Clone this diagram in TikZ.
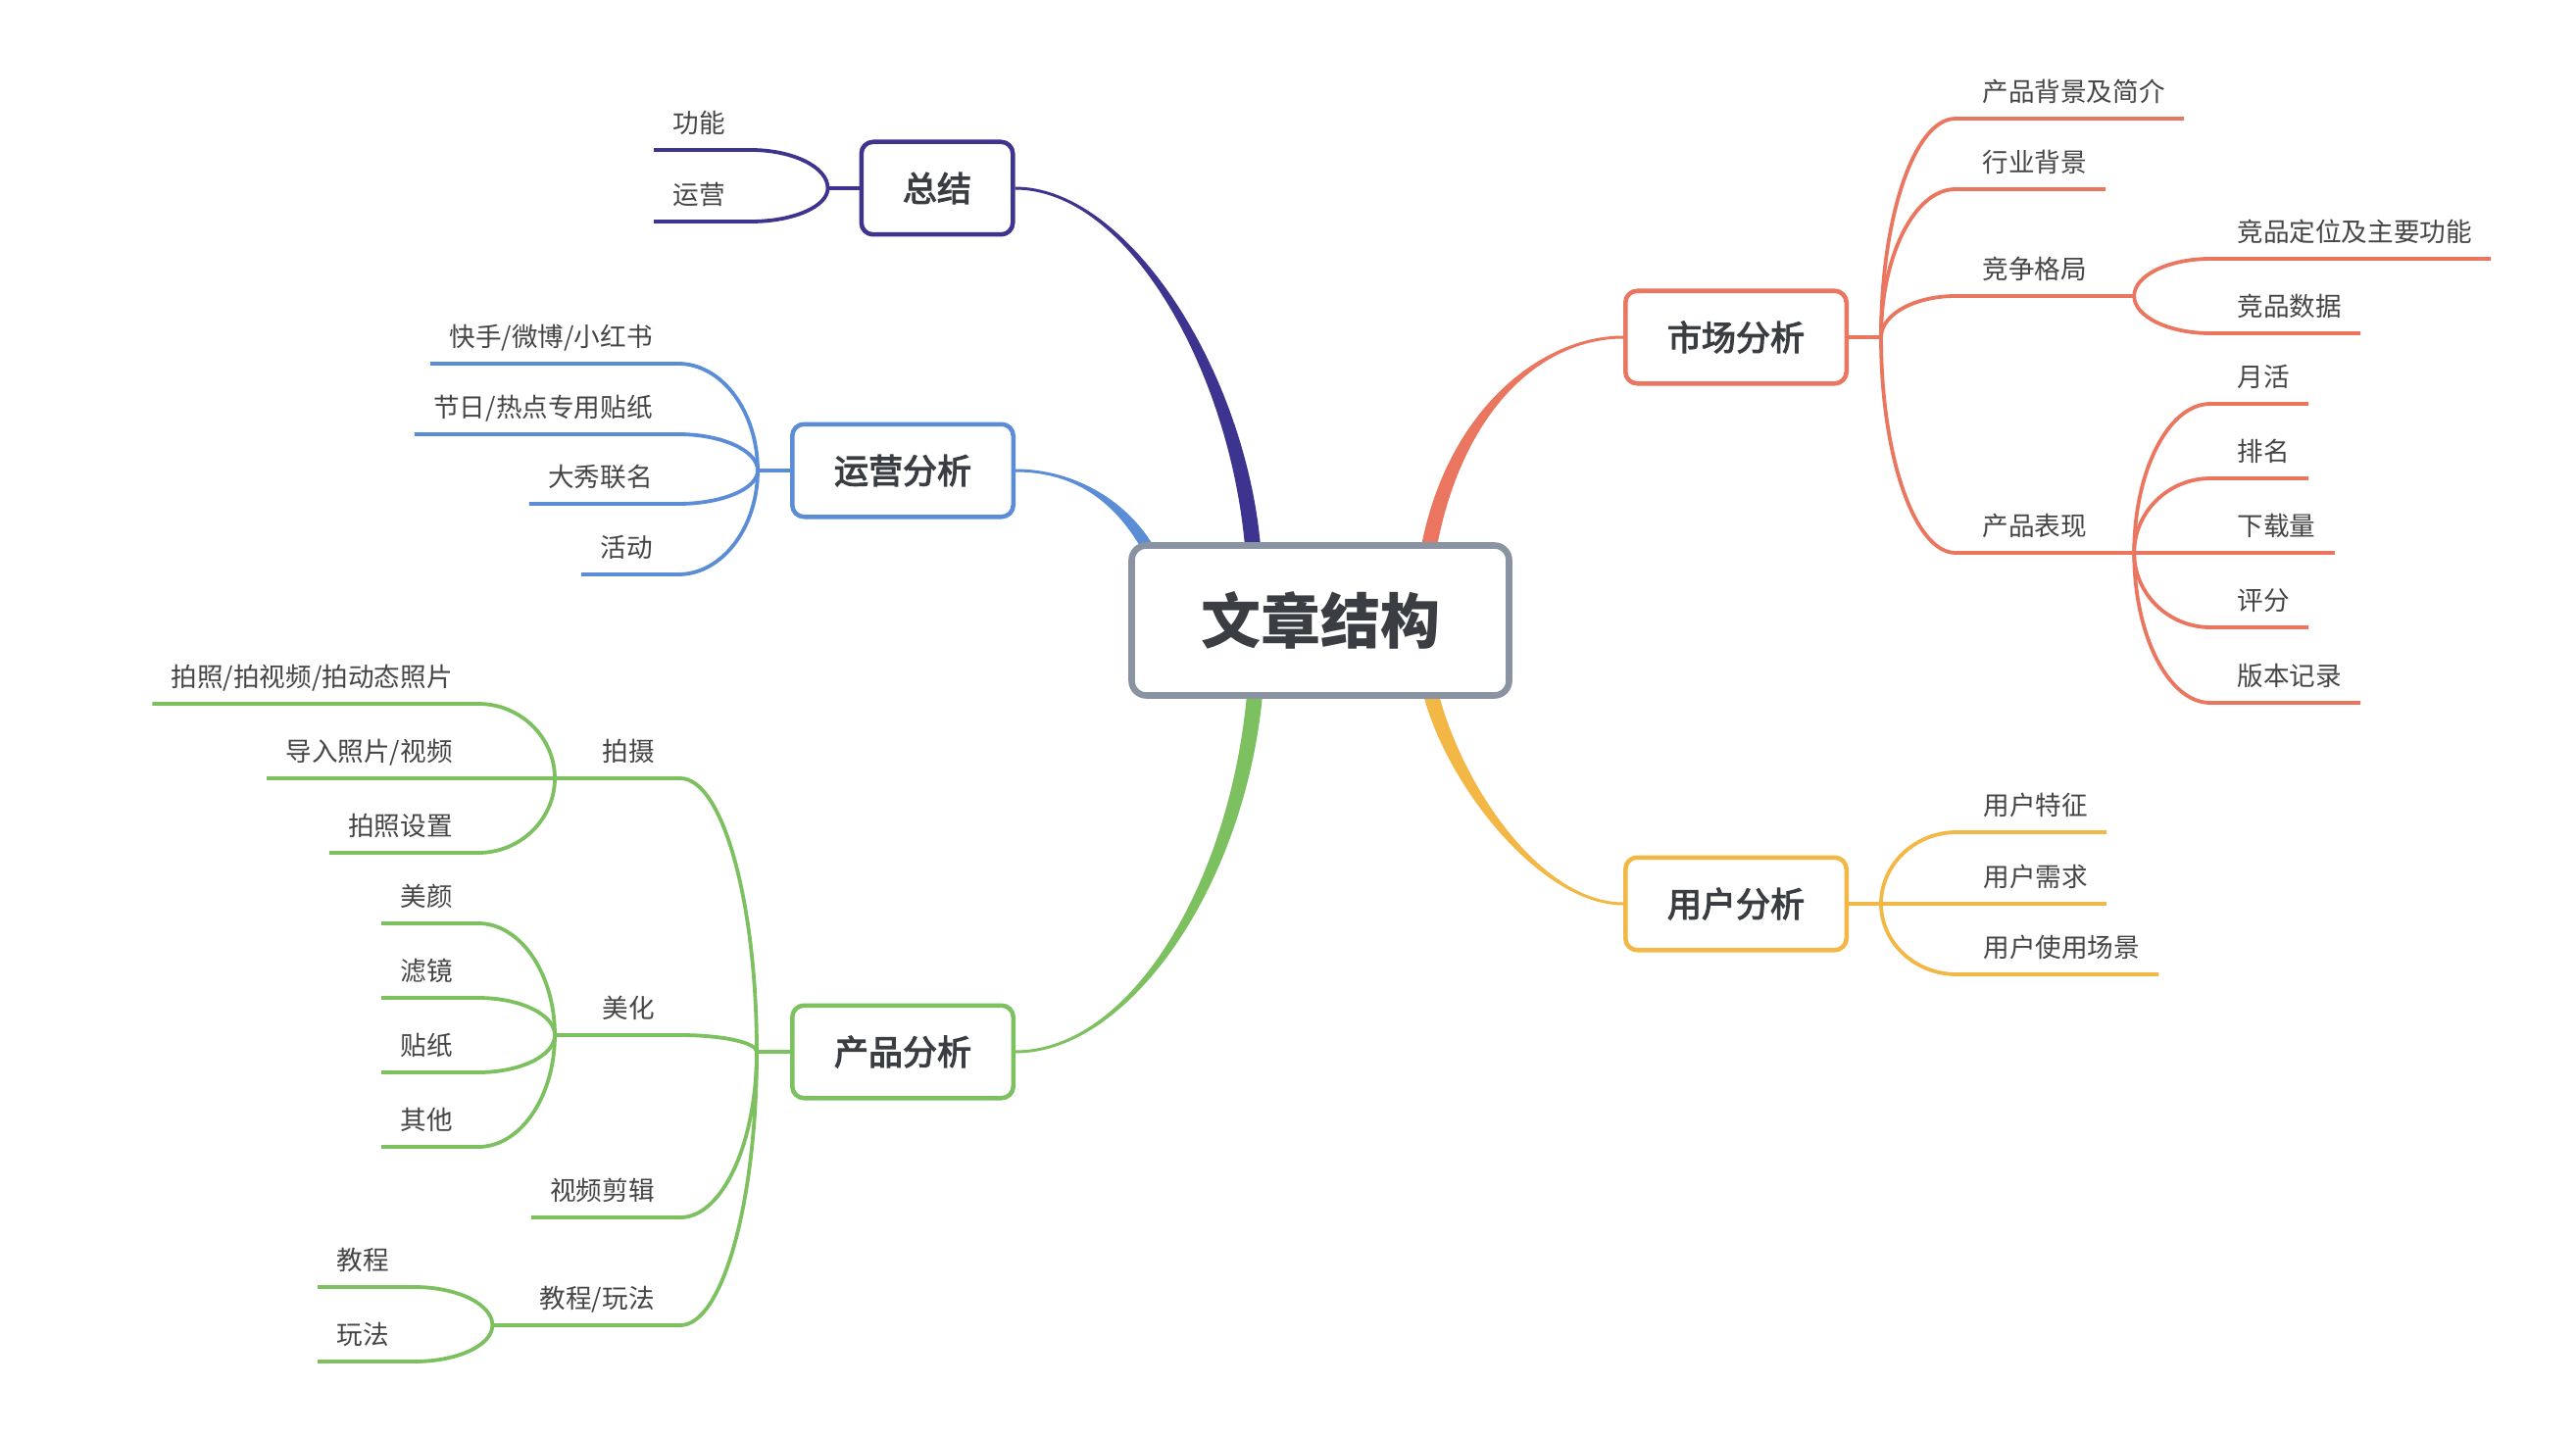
\documentclass[tikz,border=0pt]{standalone}
\usepackage{fontspec}
\setmainfont{Noto Sans CJK SC}
\newfontfamily\medcjk[FakeBold=3.2]{Noto Sans CJK SC}
\usetikzlibrary{calc}
\definecolor{pur}{HTML}{3D3490}
\definecolor{blu}{HTML}{5B8DD6}
\definecolor{grn}{HTML}{7DC060}
\definecolor{org}{HTML}{EA7660}
\definecolor{yel}{HTML}{F2B744}
\definecolor{rootc}{HTML}{8A93A2}
\definecolor{nodec}{HTML}{3A3D42}
\definecolor{leafc}{HTML}{454545}
\pgfdeclarelayer{back}\pgfdeclarelayer{bg}\pgfsetlayers{back,bg,main}
\tikzset{
  leaf/.style={inner sep=0pt, font=\fontsize{13.3}{16}\selectfont, text=leafc, text height=11.2pt, text depth=1.1pt},
  br/.style={draw=#1, line width=2.25pt, rounded corners=6pt, fill=white, minimum width=112.75pt, minimum height=47.25pt, inner sep=0pt, font=\medcjk\fontsize{17.5}{21}\selectfont, text=nodec},
  brs/.style={br=#1, minimum width=77.25pt},
  lk/.style={line width=1.9pt},
}
% left leaf: name, colour, text right x, line y, junction, text
\newcommand{\leafL}[6]{%
  \node[leaf, anchor=east] (#1) at (#3,#4-28) {#6};
  \coordinate (#1a) at ($(#1.west)+(-19,28)$);
  \coordinate (#1b) at ($(#1.east)+(26,28)$);
  \draw[lk,#2] (#1a) -- (#1b) .. controls ($(#1b)!0.55!(#1b-|#5)$) and ($(#5)!0.55!(#5|-#1b)$) .. (#5);}
% left middle topic with its own junction
\newcommand{\midL}[6]{%
  \node[leaf, anchor=east] (#1) at (#3,#4-28) {#6};
  \coordinate (#1J) at ($(#1.west)+(-48,28)$);
  \coordinate (#1b) at ($(#1.east)+(26,28)$);
  \draw[lk,#2] (#1J) -- (#1b) .. controls ($(#1b)!0.55!(#1b-|#5)$) and ($(#5)!0.55!(#5|-#1b)$) .. (#5);}
% right leaf: name, colour, curve end x, line y, junction, text
\newcommand{\leafR}[6]{%
  \node[leaf, anchor=west] (#1) at (#3+27,#4-28) {#6};
  \coordinate (#1a) at ($(#1.west)+(-27,28)$);
  \coordinate (#1b) at ($(#1.east)+(19,28)$);
  \draw[lk,#2] (#5) .. controls ($(#5)!0.55!(#5|-#1a)$) and ($(#1a)!0.55!(#1a-|#5)$) .. (#1a) -- (#1b);}
\newcommand{\midR}[6]{%
  \node[leaf, anchor=west] (#1) at (#3+27,#4-28) {#6};
  \coordinate (#1a) at ($(#1.west)+(-27,28)$);
  \coordinate (#1J) at ($(#1.east)+(48,28)$);
  \draw[lk,#2] (#5) .. controls ($(#5)!0.55!(#5|-#1a)$) and ($(#1a)!0.55!(#1a-|#5)$) .. (#1a) -- (#1J);}
% tapered main connector: colour, A, c1, c2, B, half width at B (signed)
\newcommand{\taper}[6]{%
  \fill[#1] ($(#2)+(0,-1.5)$) .. controls ($(#3)+(0,-1.5)$) and ($(#4)+(#6,0)$) .. ($(#5)+(#6,0)$)
    -- ($(#5)-(#6,0)$) .. controls ($(#4)-(#6,0)$) and ($(#3)+(0,1.5)$) .. ($(#2)+(0,1.5)$) -- cycle;}
\begin{document}
\begin{tikzpicture}[x=0.5pt,y=-0.5pt]
\begin{pgfonlayer}{back}
\fill[white] (0,0) rectangle (2628,1466);
\end{pgfonlayer}
\useasboundingbox (0,0) rectangle (2628,1466);

% central and main nodes
\node[draw=rootc, line width=3.3pt, rounded corners=7.5pt, fill=white, minimum width=192.5pt, minimum height=76.5pt, inner sep=0pt, font=\bfseries\fontsize{30.5}{36}\selectfont, text=nodec] (root) at (1347,633) {文章结构};
\node[brs=pur] (zj) at (956,192) {总结};
\node[br=blu] (yy) at (921,480) {运营分析};
\node[br=grn] (cp) at (921,1073) {产品分析};
\node[br=org] (sc) at (1771,344) {市场分析};
\node[br=yel] (yh) at (1771,922) {用户分析};

% tapered connectors from the centre
\coordinate (pz1) at ($(zj.east)+(115,0)$);
\coordinate (pz2) at ($(root.north)+(-85,-176)$);
\coordinate (pzB) at ($(root.north)+(-69,4)$);
\coordinate (pb1) at ($(yy.east)+(56,0)$);
\coordinate (pb2) at ($(root.north)+(-207,-46)$);
\coordinate (pbB) at ($(root.north)+(-177,4)$);
\coordinate (pg1) at ($(cp.east)+(116,0)$);
\coordinate (pg2) at ($(root.south)+(-85,191)$);
\coordinate (pgB) at ($(root.south)+(-67,-4)$);
\coordinate (po1) at ($(sc.west)+(-83,0)$);
\coordinate (po2) at ($(root.north)+(138,-136)$);
\coordinate (poB) at ($(root.north)+(111,4)$);
\coordinate (py1) at ($(yh.west)+(-83,0)$);
\coordinate (py2) at ($(root.south)+(138,91)$);
\coordinate (pyB) at ($(root.south)+(113,-4)$);
\begin{pgfonlayer}{bg}
\taper{pur}{zj.east}{pz1}{pz2}{pzB}{8}
\taper{blu}{yy.east}{pb1}{pb2}{pbB}{7}
\taper{grn}{cp.east}{pg1}{pg2}{pgB}{-8}
\taper{org}{sc.west}{po1}{po2}{poB}{-8}
\taper{yel}{yh.west}{py1}{py2}{pyB}{8}
\end{pgfonlayer}

% junctions
\coordinate (zjJ) at ($(zj.west)+(-32,0)$);
\coordinate (yyJ) at ($(yy.west)+(-33,0)$);
\coordinate (cpJ) at ($(cp.west)+(-34,0)$);
\coordinate (scJ) at ($(sc.east)+(33,0)$);
\coordinate (yhJ) at ($(yh.east)+(33,0)$);
\draw[lk,pur] (zj.west) -- (zjJ);
\draw[lk,blu] (yy.west) -- (yyJ);
\draw[lk,grn] (cp.west) -- (cpJ);
\draw[lk,org] (sc.east) -- (scJ);
\draw[lk,yel] (yh.east) -- (yhJ);

% 总结
\leafL{gn}{pur}{740}{153}{zjJ}{功能}
\leafL{yyb}{pur}{740}{226}{zjJ}{运营}

% 运营分析
\leafL{ks}{blu}{666}{371}{yyJ}{快手/微博/小红书}
\leafL{jr}{blu}{666}{443}{yyJ}{节日/热点专用贴纸}
\leafL{dxl}{blu}{666}{514}{yyJ}{大秀联名}
\leafL{hdo}{blu}{666}{586}{yyJ}{活动}

% 产品分析
\midL{ps}{grn}{668}{794}{cpJ}{拍摄}
\leafL{pza}{grn}{462}{718}{psJ}{拍照/拍视频/拍动态照片}
\leafL{dr}{grn}{462}{794}{psJ}{导入照片/视频}
\leafL{pzs}{grn}{462}{870}{psJ}{拍照设置}
\midL{mh}{grn}{668}{1056}{cpJ}{美化}
\leafL{myn}{grn}{462}{942}{mhJ}{美颜}
\leafL{lj}{grn}{462}{1018}{mhJ}{滤镜}
\leafL{tzh}{grn}{462}{1094}{mhJ}{贴纸}
\leafL{qt}{grn}{462}{1170}{mhJ}{其他}
\leafL{spj}{grn}{668}{1242}{cpJ}{视频剪辑}
\midL{jc}{grn}{668}{1352}{cpJ}{教程/玩法}
\leafL{jca}{grn}{397}{1313}{jcJ}{教程}
\leafL{wf}{grn}{397}{1389}{jcJ}{玩法}

% 市场分析
\leafR{bj}{org}{1995}{121}{scJ}{产品背景及简介}
\leafR{hyb}{org}{1995}{193}{scJ}{行业背景}
\midR{jz}{org}{1995}{302}{scJ}{竞争格局}
\leafR{dw}{org}{2255}{264}{jzJ}{竞品定位及主要功能}
\leafR{sjd}{org}{2255}{340}{jzJ}{竞品数据}
\midR{bx}{org}{1995}{564}{scJ}{产品表现}
\leafR{yhuo}{org}{2255}{412}{bxJ}{月活}
\leafR{pm}{org}{2255}{488}{bxJ}{排名}
\leafR{xzl}{org}{2255}{564}{bxJ}{下载量}
\leafR{pf}{org}{2255}{640}{bxJ}{评分}
\leafR{bbjl}{org}{2255}{717}{bxJ}{版本记录}

% 用户分析
\leafR{tzg}{yel}{1996}{849}{yhJ}{用户特征}
\leafR{xq}{yel}{1996}{922}{yhJ}{用户需求}
\leafR{cjj}{yel}{1996}{994}{yhJ}{用户使用场景}
\end{tikzpicture}
\end{document}
